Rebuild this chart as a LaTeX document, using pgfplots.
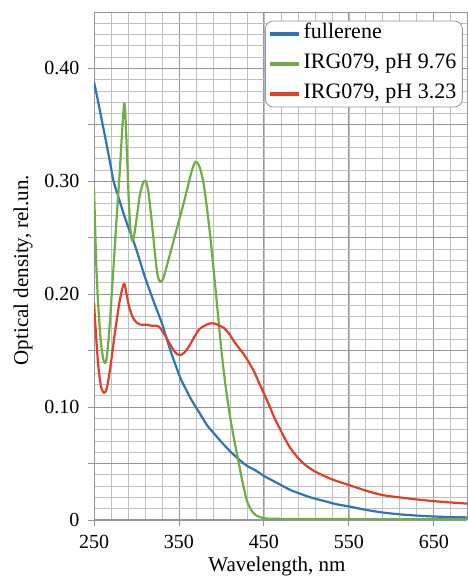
\documentclass[border=0pt]{standalone}
\usepackage{fontspec}
\setmainfont{Liberation Serif}
\usepackage{pgfplots}
\pgfplotsset{compat=1.18}
\definecolor{cblue}{RGB}{46,117,182}
\definecolor{cgreen}{RGB}{112,173,71}
\definecolor{cred}{RGB}{224,64,42}
\definecolor{gminor}{RGB}{192,192,196}
\definecolor{gmajor}{RGB}{148,148,154}
\begin{document}
\begin{tikzpicture}
\begin{axis}[
  at={(94pt,58pt)}, anchor=south west,
  scale only axis, width=373pt, height=507pt,
  xmin=250, xmax=689, ymin=0, ymax=0.449,
  xtick={250,350,450,550,650},
  xticklabels={250,350,450,550,650},
  minor xtick={270,290,...,690},
  ytick={0,0.05,0.10,0.15,0.20,0.25,0.30,0.35,0.40},
  yticklabels={0,,0.10,,0.20,,0.30,,0.40},
  minor ytick={0.01,0.02,...,0.445},
  grid=both,
  major grid style={draw=gmajor, line width=0.9pt},
  minor grid style={draw=gminor, line width=0.8pt},
  tick align=outside, major tick length=6pt, minor tick length=0pt,
  xtick pos=bottom, ytick pos=left,
  tick style={draw=gmajor, line width=0.9pt},
  axis line style={draw=gmajor, line width=1pt},
  ticklabel style={font=\fontsize{20}{24}\selectfont},
  yticklabel style={xshift=-5pt},
  xticklabel style={yshift=-6pt},
  xlabel={Wavelength, nm},
  ylabel={Optical density, rel.un.},
  label style={font=\fontsize{21}{25}\selectfont},
  xlabel style={at={(axis description cs:0.4906,-0.1020)}, anchor=base},
  ylabel style={at={(axis description cs:-0.19,0.493)}, anchor=center},
  legend style={at={(rel axis cs:0.4584,0.985)}, anchor=north west,
    draw=gmajor, line width=0.8pt, rounded corners=8pt,
    font=\fontsize{22}{26}\selectfont,
    inner xsep=3pt, inner ysep=0pt, row sep=4pt,
    nodes={font=\fontsize{22}{26}\selectfont, text height=15pt, text depth=5pt, inner ysep=3pt, inner xsep=3pt}},
  legend cell align=left,
  legend image code/.code={\draw[#1, line width=3.2pt] (0pt,0pt) -- (29pt,0pt);},
  every axis plot/.append style={line width=2.2pt, line join=round, smooth, tension=0.45},
]
\addplot[cblue] coordinates {
(250,0.388)(255,0.370)(260,0.351)(265,0.332)(270,0.312)(273,0.300)(280,0.283)(285,0.271)
(290,0.260)(296,0.248)(303,0.232)(310,0.215)(320,0.194)(330,0.174)(340,0.150)(351,0.127)
(358,0.116)(365,0.106)(374,0.095)(383,0.084)(392,0.076)(400,0.069)(410,0.061)(420,0.054)
(430,0.048)(440,0.044)(450,0.039)(460,0.035)(470,0.031)(480,0.027)(490,0.024)(505,0.020)
(520,0.017)(535,0.014)(550,0.012)(570,0.0090)(590,0.0066)(610,0.0050)(630,0.0039)
(650,0.0031)(670,0.0026)(690,0.0023)
};
\addlegendentry{fullerene}
\addplot[cgreen] coordinates {
(250,0.295)(251.5,0.255)(253,0.220)(255,0.190)(258,0.158)(261,0.142)(263,0.139)(265,0.144)
(268,0.168)(272,0.213)(276,0.260)(280,0.305)(283,0.343)(285.5,0.369)(287,0.358)(289,0.320)
(291,0.282)(293,0.256)(295,0.247)(297,0.251)(300,0.266)(304,0.288)(308,0.299)(311,0.300)
(314,0.291)(318,0.264)(322,0.234)(325,0.216)(328,0.211)(331,0.213)(335,0.223)(340,0.237)
(345,0.251)(350,0.265)(355,0.279)(360,0.294)(365,0.309)(369,0.317)(372,0.316)(375,0.311)
(379,0.298)(383,0.276)(387,0.250)(391,0.220)(395,0.189)(400,0.150)(405,0.118)(410,0.092)
(415,0.071)(420,0.052)(425,0.033)(430,0.017)(435,0.009)(440,0.0045)(450,0.0016)(470,0.0010)
(550,0.0008)(690,0.0008)
};
\addlegendentry{IRG079, pH 9.76}
\addplot[cred] coordinates {
(250,0.193)(252,0.168)(255,0.137)(258,0.119)(261,0.113)(264,0.114)(267,0.124)(271,0.145)
(275,0.168)(280,0.193)(284,0.207)(286,0.209)(288,0.201)(292,0.187)(296,0.179)(300,0.175)
(305,0.173)(312,0.173)(318,0.172)(324,0.172)(328,0.170)(334,0.163)(340,0.155)(346,0.148)
(351,0.146)(356,0.148)(362,0.154)(368,0.162)(374,0.169)(380,0.172)(386,0.174)(392,0.174)
(398,0.172)(403,0.170)(409,0.165)(415,0.158)(421,0.152)(426,0.147)(432,0.140)(438,0.132)
(444,0.122)(450,0.112)(456,0.102)(462,0.091)(468,0.082)(474,0.073)(480,0.065)(490,0.055)
(500,0.048)(510,0.043)(530,0.036)(550,0.031)(570,0.026)(590,0.022)(610,0.0200)(630,0.0182)
(650,0.0167)(670,0.0155)(690,0.0145)
};
\addlegendentry{IRG079, pH 3.23}
\end{axis}
\pgfresetboundingbox
\path[use as bounding box] (0pt,0pt) rectangle (467pt,578pt);
\end{tikzpicture}
\end{document}
